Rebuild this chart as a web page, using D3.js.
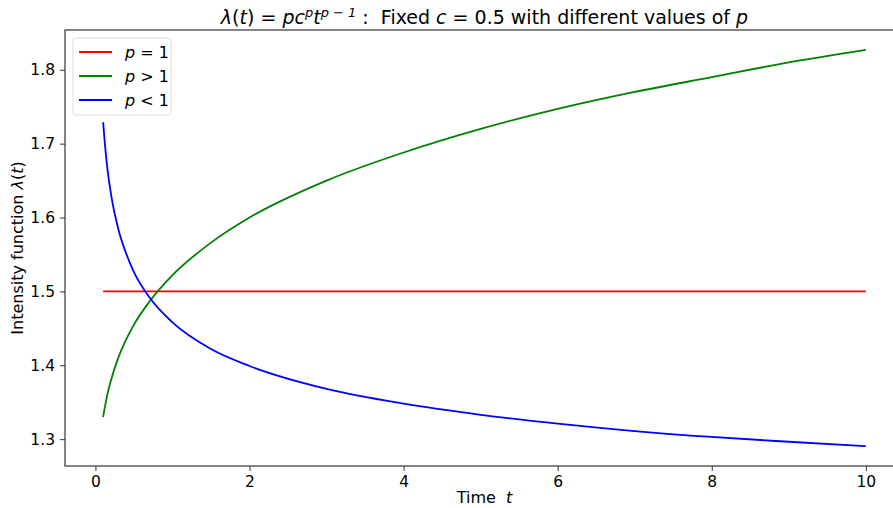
<!DOCTYPE html>
<html>
<head>
<meta charset="utf-8">
<script src="https://cdn.jsdelivr.net/npm/d3@7"></script>
<style>
  body { margin: 0; background: #fff; }
  svg { font-family: "DejaVu Sans", sans-serif; display: block; }
</style>
</head>
<body>
<div id="chart"></div>
<script>
// values

// p = 1 : constant line
const tRed = [0.1, 10];
const vRed = [1.5, 1.5];

// p > 1 : rising curve
const tGreen = [0.1, 0.12, 0.15, 0.2, 0.3, 0.4, 0.5, 0.7, 1.0, 1.5, 2, 3, 4, 5, 6, 7, 8, 9, 10];
const vGreen = [1.330, 1.342, 1.358, 1.379, 1.411, 1.435, 1.455, 1.486, 1.522, 1.566, 1.600, 1.650, 1.688, 1.720, 1.747, 1.770, 1.790, 1.810, 1.827];

// p < 1 : falling curve
const tBlue = [0.1, 0.12, 0.15, 0.2, 0.3, 0.4, 0.5, 0.7, 1.0, 1.5, 2, 3, 4, 5, 6, 7, 8, 9, 10];
const vBlue = [1.729, 1.703, 1.671, 1.633, 1.583, 1.551, 1.526, 1.492, 1.458, 1.422, 1.399, 1.368, 1.348, 1.333, 1.321, 1.311, 1.303, 1.2965, 1.2905];

const xTicks = [0, 2, 4, 6, 8, 10];
const yTicks = [1.3, 1.4, 1.5, 1.6, 1.7, 1.8];

const series = [
    {label: "= 1", t: tRed, v: vRed, color: "red"},
    {label: "> 1", t: tGreen, v: vGreen, color: "green"},
    {label: "< 1", t: tBlue, v: vBlue, color: "blue"}
];

const width = 893;
const height = 508;
// the right spine sits just past the picture edge
const margin = {top: 30, right: -11, bottom: 42, left: 65};
const innerWidth = width - margin.left - margin.right;
const innerHeight = height - margin.top - margin.bottom;

const svg = d3.select("#chart")
    .append("svg")
    .attr("width", width)
    .attr("height", height);

const chart = svg.append("g")
    .attr("transform", `translate(${margin.left}, ${margin.top})`);

// matplotlib style 5% margins around the data
const xMin = 0.1, xMax = 10;
const yMin = 1.2905, yMax = 1.827;
const xPad = (xMax - xMin) * 0.05;
const yPad = (yMax - yMin) * 0.05;

const xScale = d3.scaleLinear()
    .domain([xMin - xPad, xMax + xPad])
    .range([0, innerWidth]);

const yScale = d3.scaleLinear()
    .domain([yMin - yPad, yMax + yPad])
    .range([innerHeight, 0]);

// axes
const xAxis = chart.append("g")
    .attr("transform", `translate(0, ${innerHeight})`)
    .call(d3.axisBottom(xScale).tickValues(xTicks).tickSize(5).tickPadding(5).tickFormat(d3.format("d")));

const yAxis = chart.append("g")
    .call(d3.axisLeft(yScale).tickValues(yTicks).tickSize(5).tickPadding(5).tickFormat(d3.format(".1f")));

[xAxis, yAxis].forEach(ax => {
    ax.attr("font-family", null).attr("font-size", null);
    ax.select(".domain").remove();
    ax.selectAll(".tick line").attr("stroke", "#333").attr("stroke-width", 1);
    ax.selectAll(".tick text")
        .style("font-family", "DejaVu Sans")
        .style("font-size", "15.5px")
        .attr("fill", "#000");
});

// spines
chart.append("rect")
    .attr("x", 0)
    .attr("y", 0)
    .attr("width", innerWidth)
    .attr("height", innerHeight)
    .attr("fill", "none")
    .attr("stroke", "#333")
    .attr("stroke-width", 1.2);

// lines
const line = d3.line()
    .x(d => xScale(d[0]))
    .y(d => yScale(d[1]))
    .curve(d3.curveMonotoneX);

series.forEach(s => {
    chart.append("path")
        .datum(d3.zip(s.t, s.v))
        .attr("fill", "none")
        .attr("stroke", s.color)
        .attr("stroke-width", 1.8)
        .attr("d", line);
});

// legend
const legend = chart.append("g")
    .attr("transform", "translate(8, 8)");

legend.append("rect")
    .attr("width", 98)
    .attr("height", 77)
    .attr("rx", 3)
    .attr("fill", "#fff")
    .attr("fill-opacity", 0.8)
    .attr("stroke", "#ddd")
    .attr("stroke-width", 1);

series.forEach((s, i) => {
    const y = 14 + i * 24;
    legend.append("line")
        .attr("x1", 6)
        .attr("x2", 39)
        .attr("y1", y)
        .attr("y2", y)
        .attr("stroke", s.color)
        .attr("stroke-width", 1.8);
    const txt = legend.append("text")
        .attr("x", 52)
        .attr("y", y + 5.5)
        .style("font-size", "16px");
    txt.append("tspan").style("font-style", "italic").text("p");
    txt.append("tspan").text(" " + s.label);
});

// axis labels
const xLab = chart.append("text")
    .attr("x", innerWidth / 2)
    .attr("y", innerHeight + 37)
    .attr("text-anchor", "middle")
    .style("font-size", "16px");
xLab.append("tspan").text("Time\u00a0\u00a0");
xLab.append("tspan").style("font-style", "italic").text("t");

const yLab = chart.append("text")
    .attr("transform", "rotate(-90)")
    .attr("x", -innerHeight / 2)
    .attr("y", -42)
    .attr("text-anchor", "middle")
    .style("font-size", "16px");
yLab.append("tspan").text("Intensity function\u00a0");
yLab.append("tspan").style("font-style", "italic").text("λ");
yLab.append("tspan").text("(");
yLab.append("tspan").style("font-style", "italic").text("t");
yLab.append("tspan").text(")");

// title with math parts
const title = svg.append("text")
    .attr("x", margin.left + innerWidth / 2)
    .attr("y", 24)
    .attr("text-anchor", "middle")
    .style("font-size", "19px");
const it = (t) => title.append("tspan").style("font-style", "italic").text(t);
const up = (t) => title.append("tspan").style("font-style", "italic").style("font-size", "13px").attr("dy", -7).text(t);
it("λ");
title.append("tspan").text("(");
it("t");
title.append("tspan").text(")\u00a0=\u00a0");
it("pc");
up("p");
title.append("tspan").attr("dy", 7).style("font-style", "italic").text("t");
up("p\u00a0−\u00a01");
title.append("tspan").attr("dy", 7).text("\u00a0:\u00a0\u00a0Fixed\u00a0");
it("c");
title.append("tspan").text("\u00a0=\u00a00.5 with different values of\u00a0");
it("p");
</script>
</body>
</html>
